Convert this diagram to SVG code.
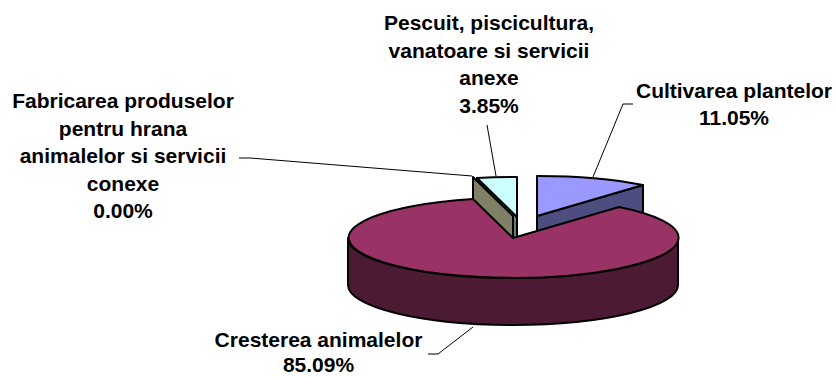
<svg xmlns="http://www.w3.org/2000/svg" width="836" height="377" viewBox="0 0 836 377">
<style>
.lbl{font-family:"Liberation Sans",Arial,sans-serif;font-weight:bold;font-size:21px;fill:#000;text-anchor:middle}
.edge{stroke:#000;stroke-width:2;stroke-linejoin:round}
.lead{fill:none;stroke:#000;stroke-width:1}
</style>
<rect width="836" height="377" fill="#fff"/>
<g id="slice-cultivarea">
<path class="edge" fill="#4D4D80" d="M537,216 L643,185 L643,232 L537,263 Z"/>
<path class="edge" fill="#9999FF" d="M537,216 L537,176 A165,40 0 0 1 643,185 Z"/>
</g>
<g id="slice-pescuit">
<path class="edge" fill="#668080" d="M517,217 L477,178 L477,225 L517,264 Z"/>
<path class="edge" fill="#CCFFFF" d="M517,217 L477,178 A165,40 0 0 1 517,177 Z"/>
</g>
<g id="slice-fabricarea">
<path class="edge" fill="#808066" d="M513,216 L473,177 L473,224 L513,263 Z"/>
</g>
<g id="slice-cresterea">
<path class="edge" fill="#4D1A33" d="M348,238 A165,40 0 0 0 678,238 L678,285 A165,40 0 0 1 348,285 Z"/>
<path class="edge" fill="#993366" d="M513,238 L619,207 A165,40 0 1 1 473,199 Z"/>
</g>
<g id="connectors">
<polyline class="lead" points="239,158 250,158 472,176"/>
<polyline class="lead" points="487,125 496,176"/>
<polyline class="lead" points="633,104 623,104 593,177"/>
<polyline class="lead" points="428,354 438,354 473,327"/>
</g>
<g id="label-fabricarea">
<text class="lbl" x="123" y="108">Fabricarea produselor</text>
<text class="lbl" x="123" y="135.5">pentru hrana</text>
<text class="lbl" x="123" y="163">animalelor si servicii</text>
<text class="lbl" x="123" y="190.5">conexe</text>
<text class="lbl" x="123" y="218">0.00%</text>
</g>
<g id="label-pescuit">
<text class="lbl" x="489" y="30">Pescuit, piscicultura,</text>
<text class="lbl" x="489" y="57.5">vanatoare si servicii</text>
<text class="lbl" x="489" y="85">anexe</text>
<text class="lbl" x="489" y="112.5">3.85%</text>
</g>
<g id="label-cultivarea">
<text class="lbl" x="734" y="98">Cultivarea plantelor</text>
<text class="lbl" x="734" y="125">11.05%</text>
</g>
<g id="label-cresterea">
<text class="lbl" x="318.5" y="347">Cresterea animalelor</text>
<text class="lbl" x="318.5" y="372">85.09%</text>
</g>
</svg>
